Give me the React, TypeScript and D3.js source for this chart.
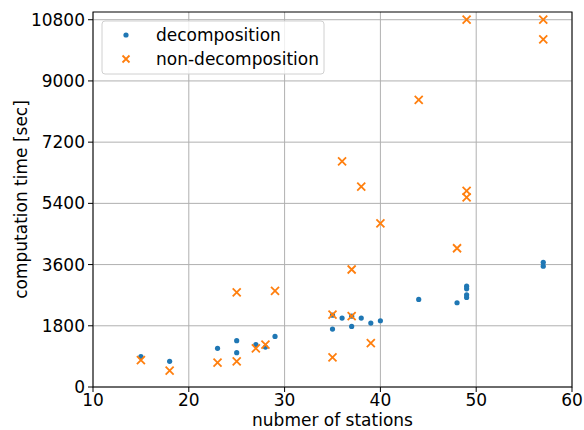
import React from 'react'
import * as d3 from 'd3'

const width = 584
const height = 430
const margin = { top: 12, right: 12, bottom: 43, left: 93 }

// decomposition: stations / seconds
const decompStations = [15, 18, 23, 25, 25, 27, 28, 29, 35, 35, 36, 37, 37, 38, 39, 40, 44, 48, 49, 49, 49, 49, 57, 57]
const decompTimes = [892, 754, 1136, 1362, 1009, 1244, 1174, 1488, 1702, 2113, 2026, 1781, 2084, 2026, 1880, 1948, 2574, 2477, 2964, 2888, 2712, 2633, 3669, 3552]

// non-decomposition
const nonStations = [15, 18, 23, 25, 25, 27, 28, 29, 35, 35, 36, 37, 37, 38, 39, 40, 44, 48, 49, 49, 49, 57, 57]
const nonTimes = [793, 481, 716, 754, 2780, 1136, 1244, 2829, 2125, 872, 6633, 3455, 2084, 5891, 1291, 4814, 8444, 4080, 5764, 5577, 10800, 10800, 10220]

const xTicks = [10, 20, 30, 40, 50, 60]
const yTicks = [0, 1800, 3600, 5400, 7200, 9000, 10800]

const blue = '#1f77b4'
const orange = '#ff7f0e'
const font = 'DejaVu Sans, sans-serif'
const fs = 17

function Cross({ x, y, s = 4 }: { x: number; y: number; s?: number }) {
    return (
        <path
            d={`M${x - s},${y - s}L${x + s},${y + s}M${x - s},${y + s}L${x + s},${y - s}`}
            stroke={orange}
            strokeWidth={1.8}
        />
    )
}

export default function App() {
    const x = d3.scaleLinear().domain([10, 60]).range([margin.left, width - margin.right])
    const y = d3.scaleLinear().domain([0, 11027]).range([height - margin.bottom, margin.top])
    const [x0, x1] = x.range()
    const [y0, y1] = y.range()

    return (
        <svg width={width} height={height} style={{ position: 'absolute', left: 0, top: 0 }} fontFamily={font}>
            <rect width={width} height={height} fill="white" />
            {/* grid */}
            {xTicks.map(t => (
                <line key={'gx' + t} x1={x(t)} x2={x(t)} y1={y0} y2={y1} stroke="#b0b0b0" strokeWidth={1} />
            ))}
            {yTicks.map(t => (
                <line key={'gy' + t} x1={x0} x2={x1} y1={y(t)} y2={y(t)} stroke="#b0b0b0" strokeWidth={1} />
            ))}
            {/* points */}
            {decompStations.map((s, i) => (
                <circle key={'d' + i} cx={x(s)} cy={y(decompTimes[i])} r={2.6} fill={blue} />
            ))}
            {nonStations.map((s, i) => (
                <Cross key={'n' + i} x={x(s)} y={y(nonTimes[i])} />
            ))}
            {/* frame */}
            <rect x={x0} y={y1} width={x1 - x0} height={y0 - y1} fill="none" stroke="#000" strokeWidth={1} />
            {/* ticks */}
            {xTicks.map(t => (
                <g key={'tx' + t}>
                    <line x1={x(t)} x2={x(t)} y1={y0} y2={y0 + 5} stroke="#000" />
                    <text x={x(t)} y={y0 + 19} textAnchor="middle" fontSize={fs}>
                        {t}
                    </text>
                </g>
            ))}
            {yTicks.map(t => (
                <g key={'ty' + t}>
                    <line x1={x0 - 5} x2={x0} y1={y(t)} y2={y(t)} stroke="#000" />
                    <text x={x0 - 8} y={y(t)} dy="0.36em" textAnchor="end" fontSize={fs}>
                        {t}
                    </text>
                </g>
            ))}
            <text x={(x0 + x1) / 2} y={426} textAnchor="middle" fontSize={fs}>
                nubmer of stations
            </text>
            <text
                transform={`translate(27,${(y0 + y1) / 2}) rotate(-90)`}
                textAnchor="middle"
                fontSize={fs}
            >
                computation time [sec]
            </text>
            {/* legend */}
            <rect x={102} y={21} width={222} height={53} rx={3} fill="white" fillOpacity={0.8} stroke="#d0d0d0" />
            <circle cx={126} cy={35} r={2.6} fill={blue} />
            <text x={156} y={35} dy="0.36em" fontSize={fs}>
                decomposition
            </text>
            <Cross x={126} y={59} s={3.5} />
            <text x={156} y={59} dy="0.36em" fontSize={fs}>
                non-decomposition
            </text>
        </svg>
    )
}
